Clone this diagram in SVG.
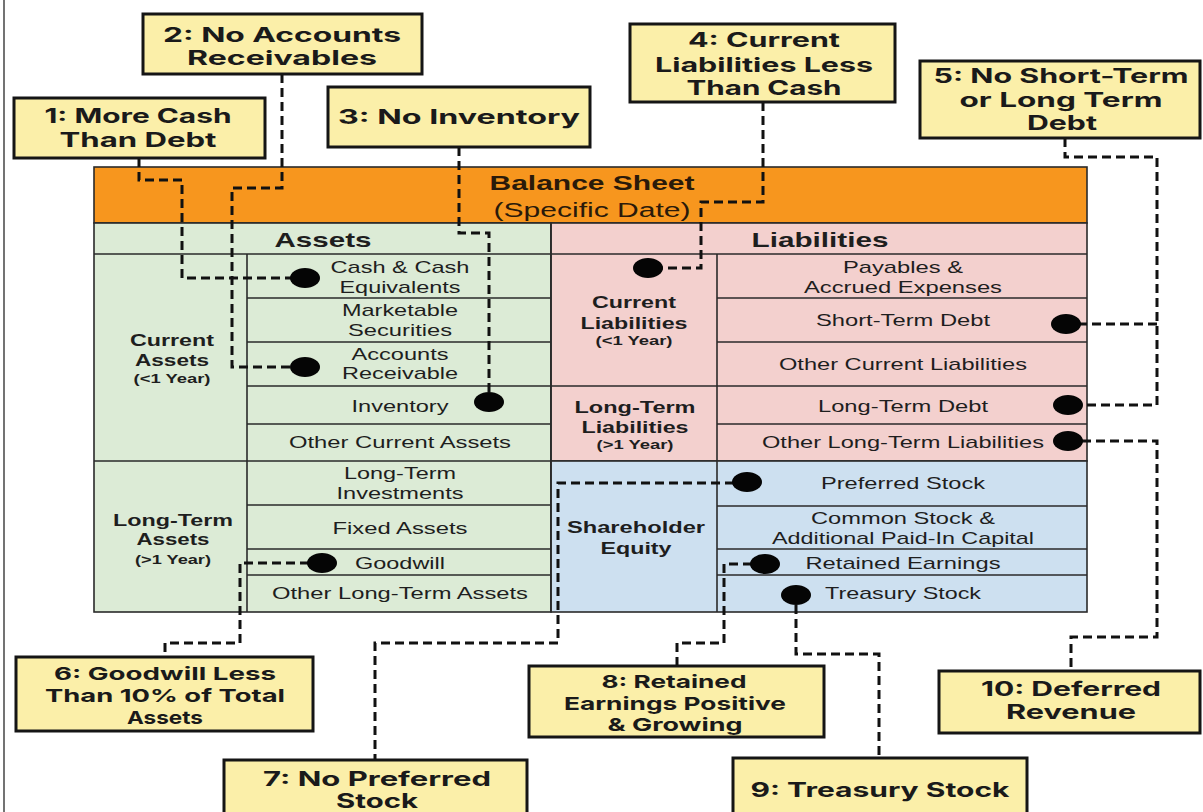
<svg xmlns="http://www.w3.org/2000/svg" width="1203" height="812" viewBox="0 0 1203 812">
  <style>
    .callout rect { fill: #fbefa9; stroke: #151515; stroke-width: 3; }
    .callout text { font-family: Inter, "Open Sans", "Liberation Sans", sans-serif; font-weight: 700; font-size: 20px; fill: #1a1a1a; text-anchor: middle; }
    .callout.sm text { font-size: 18px; }
    .cell { stroke: #2a2a2a; stroke-width: 1.6; }
    .grid line { stroke: #2a2a2a; stroke-width: 1.6; }
    .item { font-family: "Liberation Sans", Arial, sans-serif; font-size: 17px; fill: #1e1e1e; text-anchor: middle; }
    .head { font-family: "Liberation Sans", Arial, sans-serif; font-weight: 700; font-size: 16px; fill: #1e1e1e; text-anchor: middle; }
    .yr { font-family: "Liberation Sans", Arial, sans-serif; font-weight: 700; font-size: 13px; fill: #1e1e1e; text-anchor: middle; }
    .colhead { font-family: "Liberation Sans", Arial, sans-serif; font-weight: 700; font-size: 21px; fill: #1e1e1e; text-anchor: middle; }
    .title { font-family: "Liberation Sans", Arial, sans-serif; font-size: 20px; fill: #2a1a0a; text-anchor: middle; }
    .link { fill: none; stroke: #111; stroke-width: 3; stroke-dasharray: 9 5; }
    .dot { fill: #050505; }
  </style>

  <rect width="1203" height="812" fill="#ffffff"/>
  <line x1="4" y1="0" x2="4" y2="812" stroke="#444" stroke-width="1.5"/>

  <!-- balance sheet table -->
  <g id="balance-sheet">
    <rect class="cell" x="94" y="167" width="993" height="56" fill="#f7961e"/>
    <text class="title" x="592" y="190" font-weight="700" textLength="205" lengthAdjust="spacingAndGlyphs">Balance Sheet</text>
    <text class="title" x="592" y="217" textLength="197" lengthAdjust="spacingAndGlyphs">(Specific Date)</text>

    <rect class="cell" x="94" y="223" width="457" height="389" fill="#dcebd6"/>
    <rect class="cell" x="551" y="223" width="536" height="238" fill="#f3d0ce"/>
    <rect class="cell" x="551" y="461" width="536" height="151" fill="#cde0f0"/>

    <g class="grid">
      <line x1="94" y1="254" x2="1087" y2="254"/>
      <line x1="94" y1="461" x2="551" y2="461"/>
      <line x1="247" y1="254" x2="247" y2="612"/>
      <line x1="247" y1="298" x2="551" y2="298"/>
      <line x1="247" y1="342" x2="551" y2="342"/>
      <line x1="247" y1="386" x2="551" y2="386"/>
      <line x1="247" y1="424" x2="551" y2="424"/>
      <line x1="247" y1="505" x2="551" y2="505"/>
      <line x1="247" y1="549" x2="551" y2="549"/>
      <line x1="247" y1="575" x2="551" y2="575"/>
      <line x1="717" y1="254" x2="717" y2="612"/>
      <line x1="551" y1="386" x2="1087" y2="386"/>
      <line x1="717" y1="298" x2="1087" y2="298"/>
      <line x1="717" y1="342" x2="1087" y2="342"/>
      <line x1="717" y1="424" x2="1087" y2="424"/>
      <line x1="717" y1="506" x2="1087" y2="506"/>
      <line x1="717" y1="549" x2="1087" y2="549"/>
      <line x1="717" y1="575" x2="1087" y2="575"/>
      <line x1="551" y1="223" x2="551" y2="612" stroke-width="2.2"/>
    </g>

    <text class="colhead" x="323" y="247" textLength="97" lengthAdjust="spacingAndGlyphs">Assets</text>
    <text class="colhead" x="820" y="247" textLength="137" lengthAdjust="spacingAndGlyphs">Liabilities</text>

    <!-- asset groups -->
    <text class="head" x="172" y="346" textLength="84" lengthAdjust="spacingAndGlyphs">Current</text>
    <text class="head" x="172" y="366" textLength="74" lengthAdjust="spacingAndGlyphs">Assets</text>
    <text class="yr" x="172" y="383" textLength="77" lengthAdjust="spacingAndGlyphs">(&lt;1 Year)</text>
    <text class="head" x="173" y="526" textLength="120" lengthAdjust="spacingAndGlyphs">Long-Term</text>
    <text class="head" x="173" y="545" textLength="73" lengthAdjust="spacingAndGlyphs">Assets</text>
    <text class="yr" x="173" y="564" textLength="76" lengthAdjust="spacingAndGlyphs">(&gt;1 Year)</text>

    <!-- asset items -->
    <text class="item" x="400" y="273" textLength="139" lengthAdjust="spacingAndGlyphs">Cash &amp; Cash</text>
    <text class="item" x="400" y="293" textLength="121" lengthAdjust="spacingAndGlyphs">Equivalents</text>
    <text class="item" x="400" y="316" textLength="116" lengthAdjust="spacingAndGlyphs">Marketable</text>
    <text class="item" x="400" y="336" textLength="104" lengthAdjust="spacingAndGlyphs">Securities</text>
    <text class="item" x="400" y="360" textLength="97" lengthAdjust="spacingAndGlyphs">Accounts</text>
    <text class="item" x="400" y="379" textLength="116" lengthAdjust="spacingAndGlyphs">Receivable</text>
    <text class="item" x="400" y="412" textLength="97" lengthAdjust="spacingAndGlyphs">Inventory</text>
    <text class="item" x="400" y="448" textLength="222" lengthAdjust="spacingAndGlyphs">Other Current Assets</text>
    <text class="item" x="400" y="479" textLength="112" lengthAdjust="spacingAndGlyphs">Long-Term</text>
    <text class="item" x="400" y="499" textLength="127" lengthAdjust="spacingAndGlyphs">Investments</text>
    <text class="item" x="400" y="534" textLength="135" lengthAdjust="spacingAndGlyphs">Fixed Assets</text>
    <text class="item" x="400" y="569" textLength="90" lengthAdjust="spacingAndGlyphs">Goodwill</text>
    <text class="item" x="400" y="599" textLength="256" lengthAdjust="spacingAndGlyphs">Other Long-Term Assets</text>

    <!-- liability and equity groups -->
    <text class="head" x="634" y="308" textLength="84" lengthAdjust="spacingAndGlyphs">Current</text>
    <text class="head" x="634" y="329" textLength="107" lengthAdjust="spacingAndGlyphs">Liabilities</text>
    <text class="yr" x="634" y="345" textLength="77" lengthAdjust="spacingAndGlyphs">(&lt;1 Year)</text>
    <text class="head" x="635" y="413" textLength="121" lengthAdjust="spacingAndGlyphs">Long-Term</text>
    <text class="head" x="635" y="433" textLength="107" lengthAdjust="spacingAndGlyphs">Liabilities</text>
    <text class="yr" x="635" y="449" textLength="77" lengthAdjust="spacingAndGlyphs">(&gt;1 Year)</text>
    <text class="head" x="636" y="533" textLength="138" lengthAdjust="spacingAndGlyphs">Shareholder</text>
    <text class="head" x="636" y="554" textLength="71" lengthAdjust="spacingAndGlyphs">Equity</text>

    <!-- liability and equity items -->
    <text class="item" x="903" y="273" textLength="120" lengthAdjust="spacingAndGlyphs">Payables &amp;</text>
    <text class="item" x="903" y="293" textLength="198" lengthAdjust="spacingAndGlyphs">Accrued Expenses</text>
    <text class="item" x="903" y="326" textLength="174" lengthAdjust="spacingAndGlyphs">Short-Term Debt</text>
    <text class="item" x="903" y="370" textLength="248" lengthAdjust="spacingAndGlyphs">Other Current Liabilities</text>
    <text class="item" x="903" y="412" textLength="170" lengthAdjust="spacingAndGlyphs">Long-Term Debt</text>
    <text class="item" x="903" y="448" textLength="282" lengthAdjust="spacingAndGlyphs">Other Long-Term Liabilities</text>
    <text class="item" x="903" y="489" textLength="164" lengthAdjust="spacingAndGlyphs">Preferred Stock</text>
    <text class="item" x="903" y="524" textLength="184" lengthAdjust="spacingAndGlyphs">Common Stock &amp;</text>
    <text class="item" x="903" y="544" textLength="262" lengthAdjust="spacingAndGlyphs">Additional Paid-In Capital</text>
    <text class="item" x="903" y="569" textLength="195" lengthAdjust="spacingAndGlyphs">Retained Earnings</text>
    <text class="item" x="903" y="599" textLength="156" lengthAdjust="spacingAndGlyphs">Treasury Stock</text>
  </g>

  <!-- dashed leaders from each rule to its line item -->
  <g id="connectors">
    <path class="link" d="M139,158 V180 H182 V278 H292"/>
    <path class="link" d="M282,74 V188 H232 V367 H292"/>
    <path class="link" d="M459,147 V233 H489 V394"/>
    <path class="link" d="M763,102 V202 H701 V268 H662"/>
    <path class="link" d="M1065,138 V157 H1157 V405 H1082"/>
    <path class="link" d="M1157,324 H1080"/>
    <path class="link" d="M1082,441 H1157 V637 H1071 V671"/>
    <path class="link" d="M309,563 H240 V643 H165 V657"/>
    <path class="link" d="M734,483 H558 V643 H375 V760"/>
    <path class="link" d="M752,564 H724 V643 H677 V666"/>
    <path class="link" d="M796,605 V654 H879 V758"/>

    <ellipse class="dot" cx="305" cy="278" rx="15" ry="10"/>
    <ellipse class="dot" cx="305" cy="367" rx="15" ry="10"/>
    <ellipse class="dot" cx="489" cy="402" rx="15" ry="10"/>
    <ellipse class="dot" cx="648" cy="268" rx="15" ry="10"/>
    <ellipse class="dot" cx="1066" cy="324" rx="15" ry="10"/>
    <ellipse class="dot" cx="1068" cy="405" rx="15" ry="10"/>
    <ellipse class="dot" cx="1068" cy="441" rx="15" ry="10"/>
    <ellipse class="dot" cx="322" cy="563" rx="15" ry="10"/>
    <ellipse class="dot" cx="747" cy="482" rx="15" ry="10"/>
    <ellipse class="dot" cx="765" cy="564" rx="15" ry="10"/>
    <ellipse class="dot" cx="796" cy="595" rx="15" ry="10"/>
  </g>

  <!-- numbered rules -->
  <g id="rule-1" class="callout">
    <rect x="14" y="98" width="251" height="60"/>
    <text x="138" y="123" textLength="187" lengthAdjust="spacingAndGlyphs">1: More Cash</text>
    <text x="138" y="147" textLength="157" lengthAdjust="spacingAndGlyphs">Than Debt</text>
  </g>
  <g id="rule-2" class="callout">
    <rect x="143" y="14" width="279" height="60"/>
    <text x="282" y="42" textLength="238" lengthAdjust="spacingAndGlyphs">2: No Accounts</text>
    <text x="282" y="65" textLength="190" lengthAdjust="spacingAndGlyphs">Receivables</text>
  </g>
  <g id="rule-3" class="callout">
    <rect x="328" y="87" width="262" height="60"/>
    <text x="459" y="124" textLength="242" lengthAdjust="spacingAndGlyphs">3: No Inventory</text>
  </g>
  <g id="rule-4" class="callout">
    <rect x="630" y="24" width="265" height="78"/>
    <text x="764" y="47" textLength="152" lengthAdjust="spacingAndGlyphs">4: Current</text>
    <text x="764" y="72" textLength="218" lengthAdjust="spacingAndGlyphs">Liabilities Less</text>
    <text x="764" y="95" textLength="155" lengthAdjust="spacingAndGlyphs">Than Cash</text>
  </g>
  <g id="rule-5" class="callout">
    <rect x="920" y="61" width="280" height="77"/>
    <text x="1061" y="83" textLength="255" lengthAdjust="spacingAndGlyphs">5: No Short-Term</text>
    <text x="1061" y="107" textLength="203" lengthAdjust="spacingAndGlyphs">or Long Term</text>
    <text x="1062" y="130" textLength="70" lengthAdjust="spacingAndGlyphs">Debt</text>
  </g>
  <g id="rule-6" class="callout sm">
    <rect x="16" y="657" width="297" height="74"/>
    <text x="165" y="680" textLength="222" lengthAdjust="spacingAndGlyphs">6: Goodwill Less</text>
    <text x="165" y="702" textLength="240" lengthAdjust="spacingAndGlyphs">Than 10% of Total</text>
    <text x="165" y="724" textLength="76" lengthAdjust="spacingAndGlyphs">Assets</text>
  </g>
  <g id="rule-7" class="callout">
    <rect x="224" y="760" width="303" height="70"/>
    <text x="377" y="786" textLength="228" lengthAdjust="spacingAndGlyphs">7: No Preferred</text>
    <text x="377" y="808" textLength="82" lengthAdjust="spacingAndGlyphs">Stock</text>
  </g>
  <g id="rule-8" class="callout sm">
    <rect x="529" y="666" width="295" height="71"/>
    <text x="674" y="688" textLength="145" lengthAdjust="spacingAndGlyphs">8: Retained</text>
    <text x="675" y="710" textLength="222" lengthAdjust="spacingAndGlyphs">Earnings Positive</text>
    <text x="675" y="731" textLength="135" lengthAdjust="spacingAndGlyphs">&amp; Growing</text>
  </g>
  <g id="rule-9" class="callout">
    <rect x="733" y="758" width="294" height="70"/>
    <text x="880" y="797" textLength="259" lengthAdjust="spacingAndGlyphs">9: Treasury Stock</text>
  </g>
  <g id="rule-10" class="callout">
    <rect x="939" y="671" width="261" height="62"/>
    <text x="1071" y="696" textLength="180" lengthAdjust="spacingAndGlyphs">10: Deferred</text>
    <text x="1071" y="719" textLength="130" lengthAdjust="spacingAndGlyphs">Revenue</text>
  </g>
</svg>
